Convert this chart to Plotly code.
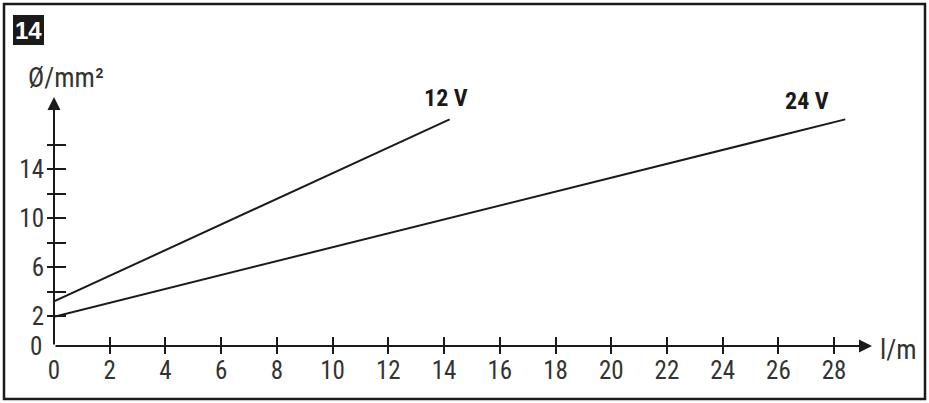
import plotly.graph_objects as go

# ---- data ----
len_12v = [0, 14.2]
dia_12v = [3.2, 18.1]
len_24v = [0, 28.4]
dia_24v = [1.95, 18.1]

x_tick_marks = [2, 4, 6, 8, 10, 12, 14, 16, 18, 20, 22, 24, 26, 28]
x_tick_labels = [0, 2, 4, 6, 8, 10, 12, 14, 16, 18, 20, 22, 24, 26, 28]
y_tick_marks = [2, 4, 6, 8, 10, 12, 14, 16]
y_tick_labels = [2, 6, 10, 14]
y_zero_label = "0"
series_names = ["12 V", "24 V"]
figure_number = "14"
y_title = "Ø/mm²"
x_title = "l/m"

# ---- layout geometry ----
W, H = 929, 403
L, R, T, B = 54, 57, 97, 57
PW, PH = W - L - R, H - T - B
X_RANGE = [0, 29.36]
Y_RANGE = [-0.45, 19.93]

def px(x):
    return (x - L) / PW

def py(y):
    return (H - B - y) / PH

FONT = "Liberation Sans Narrow, Arial Narrow, Roboto Condensed, Liberation Sans, sans-serif"
INK = "#1a1a1a"
TXT = "#333333"

fig = go.Figure()
fig.add_trace(go.Scatter(x=len_12v, y=dia_12v, mode="lines",
                         line=dict(color=INK, width=2), showlegend=False, hoverinfo="skip"))
fig.add_trace(go.Scatter(x=len_24v, y=dia_24v, mode="lines",
                         line=dict(color=INK, width=2), showlegend=False, hoverinfo="skip"))
# empty traces to register overlay axes
for xa, ya in [("x2", "y"), ("x3", "y"), ("x", "y2"), ("x", "y3")]:
    fig.add_trace(go.Scatter(x=[], y=[], xaxis=xa, yaxis=ya, showlegend=False, hoverinfo="skip"))

tickfont = dict(family=FONT, size=25, color=TXT)

common = dict(showgrid=False, zeroline=False, showline=False, fixedrange=True)
fig.update_layout(
    width=W, height=H,
    margin=dict(l=L, r=R, t=T, b=B, pad=0),
    paper_bgcolor="white", plot_bgcolor="white",
    xaxis=dict(range=X_RANGE, tickvals=x_tick_labels, ticktext=[str(v) for v in x_tick_labels],
               ticks="", tickfont=tickfont, ticklabelstandoff=7, **common),
    xaxis2=dict(range=X_RANGE, overlaying="x", anchor="y", side="bottom", tickvals=x_tick_marks,
                ticks="outside", ticklen=7, tickwidth=1.5, tickcolor=INK, showticklabels=False, **common),
    xaxis3=dict(range=X_RANGE, overlaying="x", anchor="y", side="bottom", tickvals=x_tick_marks,
                ticks="inside", ticklen=9, tickwidth=1.5, tickcolor=INK, showticklabels=False, **common),
    yaxis=dict(range=Y_RANGE, tickvals=y_tick_labels, ticktext=[str(v) for v in y_tick_labels],
               ticks="", tickfont=tickfont, ticklabelstandoff=9, **common),
    yaxis2=dict(range=Y_RANGE, overlaying="y", anchor="x", side="left", tickvals=y_tick_marks,
                ticks="outside", ticklen=6, tickwidth=1.5, tickcolor=INK, showticklabels=False, **common),
    yaxis3=dict(range=Y_RANGE, overlaying="y", anchor="x", side="left", tickvals=y_tick_marks,
                ticks="inside", ticklen=12, tickwidth=1.5, tickcolor=INK, showticklabels=False, **common),
)

annotations = []
# axis arrows
annotations.append(dict(xref="x domain", yref="y domain", x=1, y=0, axref="x domain", ayref="y domain",
                        ax=0, ay=0, showarrow=True, arrowhead=2, arrowsize=1.3, arrowwidth=2,
                        arrowcolor=INK, text="", standoff=0, startstandoff=0))
annotations.append(dict(xref="x domain", yref="y domain", x=0, y=1, axref="x domain", ayref="y domain",
                        ax=0, ay=0, showarrow=True, arrowhead=2, arrowsize=1.3, arrowwidth=2,
                        arrowcolor=INK, text="", standoff=0, startstandoff=0))
# y "0" label
annotations.append(dict(xref="paper", yref="paper", x=0, y=0, xanchor="right", yanchor="middle",
                        xshift=-10, text=y_zero_label, showarrow=False, font=tickfont))
# axis titles
annotations.append(dict(xref="paper", yref="paper", x=px(26), y=py(78), xanchor="left", yanchor="middle",
                        text=y_title, showarrow=False, font=dict(family=FONT, size=27, color=TXT)))
annotations.append(dict(xref="paper", yref="paper", x=px(878), y=py(350), xanchor="left", yanchor="middle",
                        text=x_title, showarrow=False, font=dict(family=FONT, size=27, color=TXT)))
# series labels anchored to line ends
annotations.append(dict(xref="x", yref="y", x=len_12v[-1], y=dia_12v[-1], xshift=-4, yshift=21,
                        text="<b>%s</b>" % series_names[0], showarrow=False,
                        font=dict(family=FONT, size=24, color=INK)))
annotations.append(dict(xref="x", yref="y", x=len_24v[-1], y=dia_24v[-1], xshift=-38, yshift=18,
                        text="<b>%s</b>" % series_names[1], showarrow=False,
                        font=dict(family=FONT, size=24, color=INK)))
# figure number
annotations.append(dict(xref="paper", yref="paper", x=px(28.5), y=py(30), xanchor="center", yanchor="middle",
                        text="<b>%s</b>" % figure_number, showarrow=False,
                        font=dict(family="Liberation Sans, Arial, sans-serif", size=24, color="white")))
fig.update_layout(annotations=annotations)

shapes = [
    dict(type="rect", xref="paper", yref="paper", x0=px(4), x1=px(925), y0=py(399), y1=py(4),
         line=dict(color=INK, width=2.5), fillcolor="rgba(0,0,0,0)", layer="below"),
    dict(type="rect", xref="paper", yref="paper", x0=px(13), x1=px(44), y0=py(45), y1=py(15),
         line=dict(width=0), fillcolor=INK, layer="below"),
]
fig.update_layout(shapes=shapes)

fig.write_html("out.html")
